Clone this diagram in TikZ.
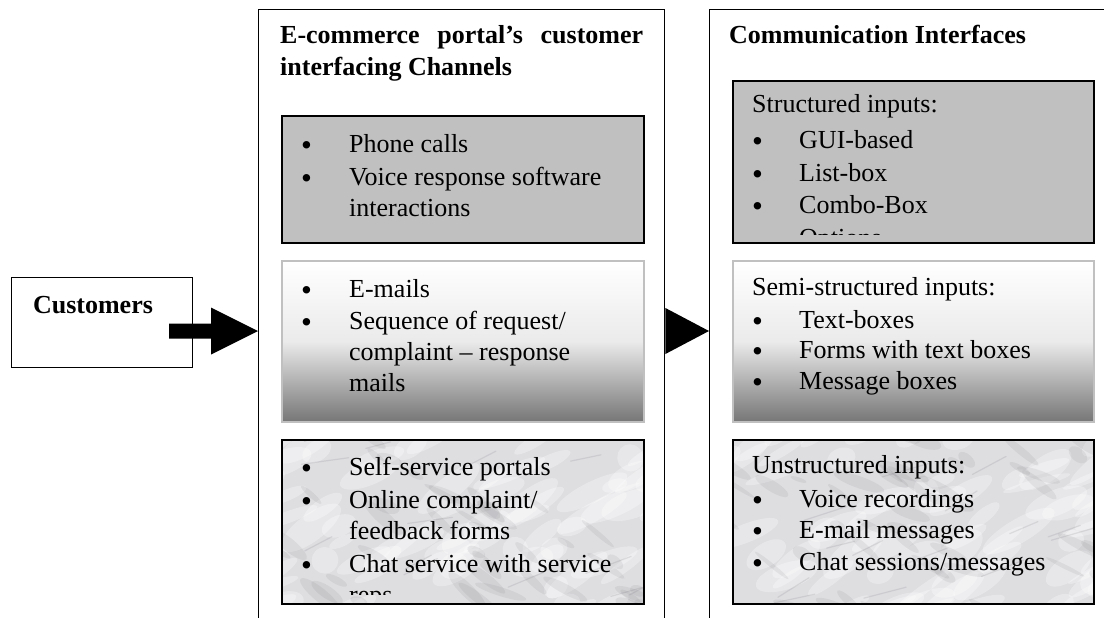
\documentclass[tikz,border=0pt]{standalone}
\usepackage{fontspec}
\usetikzlibrary{calc}
\setmainfont{Liberation Serif}
\definecolor{boxgray}{RGB}{192,192,192}
\definecolor{gradbot}{RGB}{118,118,118}
\definecolor{marblebase}{RGB}{222,222,225}
\definecolor{vein}{RGB}{105,105,112}
\newcommand\marblefill[4]{%
  \begin{scope}
    \clip (#1,#2) rectangle (#3,#4);
    \fill[marblebase] (#1,#2) rectangle (#3,#4);
    \pgfmathsetseed{#1}
    \foreach \k in {1,...,70}{%
      \pgfmathsetmacro\xa{#1-20+rnd*(#3-#1+40)}%
      \pgfmathsetmacro\ya{#2-10+rnd*(#4-#2+20)}%
      \pgfmathsetmacro\ra{12+rnd*30}%
      \pgfmathsetmacro\rb{4+rnd*10}%
      \pgfmathsetmacro\an{15+rnd*25}%
      \fill[white, opacity=0.30, rotate around={\an:(\xa,\ya)}] (\xa,\ya) ellipse ({\ra} and {\rb});
    }
    \foreach \k in {1,...,45}{%
      \pgfmathsetmacro\xa{#1-20+rnd*(#3-#1+40)}%
      \pgfmathsetmacro\ya{#2-10+rnd*(#4-#2+20)}%
      \pgfmathsetmacro\ra{8+rnd*22}%
      \pgfmathsetmacro\rb{2+rnd*5}%
      \pgfmathsetmacro\an{-(15+rnd*30)}%
      \fill[vein, opacity=0.10, rotate around={\an:(\xa,\ya)}] (\xa,\ya) ellipse ({\ra} and {\rb});
    }
    \foreach \k in {1,...,14}{%
      \pgfmathsetmacro\xa{#1+rnd*(#3-#1)}%
      \pgfmathsetmacro\ya{#2+rnd*(#4-#2)}%
      \pgfmathsetmacro\dx{20+rnd*30}%
      \pgfmathsetmacro\dy{6+rnd*14}%
      \draw[vein, opacity=0.15, line width=1.2pt, line cap=round] (\xa,\ya) -- ++(\dx,-\dy);
    }
  \end{scope}}
\begin{document}
\begin{tikzpicture}[x=1pt,y=-1pt,
  font=\fontsize{26}{32}\selectfont,
  txt/.style={anchor=base west, inner sep=0pt},
  bul/.style={anchor=base west, inner sep=0pt, font=\fontsize{31}{34}\selectfont},
  frame/.style={draw=black, line width=1.4pt, inner sep=0pt, anchor=north west},
  gbox/.style={frame, line width=1.8pt, fill=boxgray, minimum width=362pt},
  sbox/.style={draw=boxgray, line width=1.8pt, inner sep=0pt, anchor=north west,
    top color=white, bottom color=gradbot, middle color=white!85!gradbot, minimum width=362pt},
  mbox/.style={draw=black, line width=1.8pt, inner sep=0pt, anchor=north west, minimum width=362pt},
  blockarrow/.style={fill=black, draw=none}]
\useasboundingbox (0,0) rectangle (1104,618);

% columns
\node[frame, minimum width=406pt, minimum height=640pt] (colL) at (258,9) {};
\node[frame, minimum width=420pt, minimum height=640pt] (colR) at (709,9) {};

% customers
\node[frame, minimum width=181pt, minimum height=90pt] (cust) at (11,277) {};
\node[anchor=base, inner sep=0pt, font=\fontsize{26}{32}\selectfont\bfseries] (custT) at (93,313) {Customers};

% headings
\node[txt, font=\fontsize{26}{32}\selectfont\bfseries] (hL1) at (280,44) {\makebox[363pt][s]{E-commerce portal’s customer}};
\node[txt, font=\fontsize{26}{32}\selectfont\bfseries] (hL2) at (280,76) {interfacing Channels};
\node[txt, font=\fontsize{26}{32}\selectfont\bfseries] (hR) at (729,44) {Communication Interfaces};

% left boxes
\node[gbox, minimum height=127pt] (L1) at (281,115) {};
\node[sbox, minimum height=161pt] (L2) at (281,260) {};
\marblefill{281}{439}{643}{603}
\node[mbox, minimum height=164pt] (L3) at (281,439) {};

% right boxes
\node[gbox, minimum width=361pt, minimum height=162pt] (R1) at (732,80) {};
\node[sbox, minimum width=361pt, minimum height=161pt] (R2) at (732,260) {};
\marblefill{732}{439}{1093}{603}
\node[mbox, minimum width=361pt, minimum height=164pt] (R3) at (732,439) {};

% left box texts
\node[bul] (b11) at (301,155) {\smash{•}};
\node[txt] (t11) at (349,152) {Phone calls};
\node[bul] (b12) at (301,188) {\smash{•}};
\node[txt] (t12) at (349,185) {Voice response software};
\node[txt] (t13) at (349,216) {interactions};

\node[bul] (b21) at (301,300) {\smash{•}};
\node[txt] (t21) at (349,297) {E-mails};
\node[bul] (b22) at (301,332) {\smash{•}};
\node[txt] (t22) at (349,329) {Sequence of request/};
\node[txt] (t23) at (349,360) {complaint – response};
\node[txt] (t24) at (349,391) {mails};

\node[bul] (b31) at (301,478) {\smash{•}};
\node[txt] (t31) at (349,475) {Self-service portals};
\node[bul] (b32) at (301,511) {\smash{•}};
\node[txt] (t32) at (349,508) {Online complaint/};
\node[txt] (t33) at (349,539) {feedback forms};
\node[bul] (b34) at (301,575) {\smash{•}};
\node[txt] (t34) at (349,572) {Chat service with service};
\begin{scope}
  \clip (282,440) rectangle (642,594);
  \node[txt] (t35) at (349,603) {reps};
\end{scope}

% right box texts
\node[txt] (r10) at (752,113) {Structured inputs:};
\node[bul] (rb11) at (752,151) {\smash{•}};
\node[txt] (r11) at (799,148) {GUI-based};
\node[bul] (rb12) at (752,184) {\smash{•}};
\node[txt] (r12) at (799,181) {List-box};
\node[bul] (rb13) at (752,216) {\smash{•}};
\node[txt] (r13) at (799,213) {Combo-Box};
\begin{scope}
  \clip (733,81) rectangle (1092,234);
  \node[txt] (r14) at (799,246) {Options};
\end{scope}

\node[txt] (r20) at (752,295) {Semi-structured inputs:};
\node[bul] (rb21) at (752,331) {\smash{•}};
\node[txt] (r21) at (799,328) {Text-boxes};
\node[bul] (rb22) at (752,361) {\smash{•}};
\node[txt] (r22) at (799,358) {Forms with text boxes};
\node[bul] (rb23) at (752,392) {\smash{•}};
\node[txt] (r23) at (799,389) {Message boxes};

\node[txt] (r30) at (752,473) {Unstructured inputs:};
\node[bul] (rb31) at (752,510) {\smash{•}};
\node[txt] (r31) at (799,507) {Voice recordings};
\node[bul] (rb32) at (752,541) {\smash{•}};
\node[txt] (r32) at (799,538) {E-mail messages};
\node[bul] (rb33) at (752,573) {\smash{•}};
\node[txt] (r33) at (799,570) {Chat sessions/messages};

% arrows
\coordinate (a1tail) at (169,331);
\coordinate (a1tip) at (colL.west |- a1tail);
\fill[blockarrow] (a1tail) ++(0,-7.5) -- ++(42,0) -- ++(0,-16) -- (a1tip) -- ++(-47,23.5) -- ++(0,-16) -- ++(-42,0) -- cycle;
\coordinate (a2base) at (colL.east |- a1tail);
\coordinate (a2tip) at (colR.west |- a1tail);
\fill[blockarrow] ($(a2base)+(0,-23)$) -- (a2tip) -- ($(a2base)+(0,23)$) -- cycle;
\end{tikzpicture}
\end{document}
